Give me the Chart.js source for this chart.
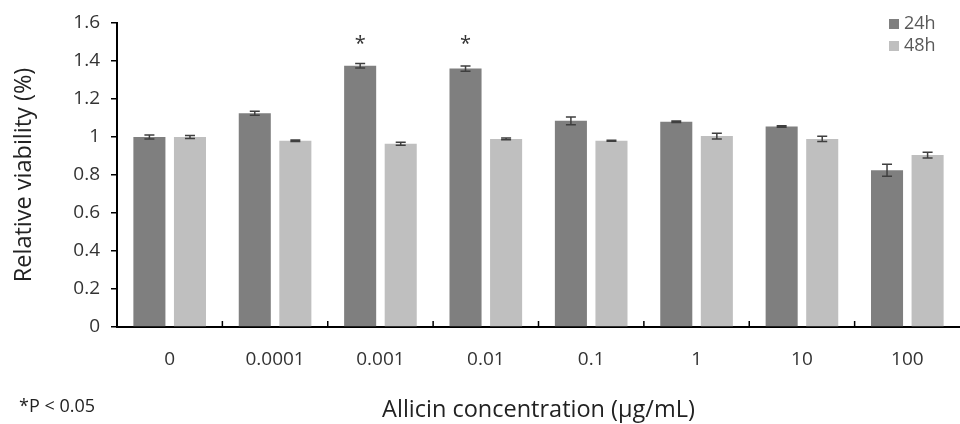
<!DOCTYPE html>
<html>
<head>
<meta charset="utf-8">
<script src="https://cdn.jsdelivr.net/npm/chart.js@4.4.1/dist/chart.umd.min.js"></script>
<style>
  html, body { margin: 0; padding: 0; background: #fff; }
  #wrap { width: 960px; height: 424px; }
</style>
</head>
<body>
<div id="wrap"><canvas id="chart"></canvas></div>
<script>
const concentrations = ['0', '0.0001', '0.001', '0.01', '0.1', '1', '10', '100'];
const viability24h = [1.0, 1.125, 1.375, 1.36, 1.085, 1.08, 1.055, 0.825];
const viability48h = [1.0, 0.98, 0.965, 0.99, 0.98, 1.005, 0.99, 0.905];
const err24h = [0.01, 0.01, 0.012, 0.014, 0.02, 0.004, 0.004, 0.032];
const err48h = [0.008, 0.004, 0.008, 0.005, 0.003, 0.015, 0.014, 0.015];
const signif24h = [false, false, true, true, false, false, false, false];
const asteriskLevel = 1.51;
const yMin = 0, yMax = 1.6, yStep = 0.2;

const FONT = "'Open Sans', 'DejaVu Sans', sans-serif";
const TEXT = '#333333';
const errors = [err24h, err48h];

const errorBars = {
  id: 'errorBars',
  afterDatasetsDraw(chart) {
    const ctx = chart.ctx;
    const y = chart.scales.y;
    ctx.save();
    ctx.strokeStyle = '#3f3f3f';
    ctx.lineWidth = 1.5;
    chart.data.datasets.forEach((ds, di) => {
      const meta = chart.getDatasetMeta(di);
      meta.data.forEach((bar, i) => {
        const e = errors[di][i];
        const top = y.getPixelForValue(ds.data[i] + e);
        const bot = y.getPixelForValue(ds.data[i] - e);
        const cap = 5;
        ctx.beginPath();
        ctx.moveTo(bar.x, top); ctx.lineTo(bar.x, bot);
        ctx.moveTo(bar.x - cap, top); ctx.lineTo(bar.x + cap, top);
        ctx.moveTo(bar.x - cap, bot); ctx.lineTo(bar.x + cap, bot);
        ctx.stroke();
      });
    });
    // significance marks over the 24h bars
    const meta0 = chart.getDatasetMeta(0);
    ctx.fillStyle = '#333';
    ctx.font = '20px ' + FONT;
    ctx.textAlign = 'center';
    ctx.textBaseline = 'middle';
    signif24h.forEach((s, i) => {
      if (!s) return;
      ctx.fillText('*', meta0.data[i].x, y.getPixelForValue(asteriskLevel) + 4);
    });
    ctx.restore();
  }
};

const xInnerTicks = {
  id: 'xInnerTicks',
  afterDraw(chart) {
    const ctx = chart.ctx;
    const x = chart.scales.x;
    const base = chart.chartArea.bottom;
    ctx.save();
    ctx.strokeStyle = '#000';
    ctx.lineWidth = 1.5;
    for (let i = 0; i < concentrations.length - 1; i++) {
      const px = (x.getPixelForValue(i) + x.getPixelForValue(i + 1)) / 2;
      ctx.beginPath();
      ctx.moveTo(px, base);
      ctx.lineTo(px, base - 6);
      ctx.stroke();
    }
    ctx.restore();
  }
};

const sideText = {
  id: 'sideText',
  afterDraw(chart) {
    const ctx = chart.ctx;
    ctx.save();
    // legend
    ctx.font = '18px ' + FONT;
    ctx.textBaseline = 'middle';
    ctx.textAlign = 'left';
    chart.data.datasets.forEach((ds, i) => {
      const cy = 24 + i * 22;
      ctx.fillStyle = ds.backgroundColor;
      ctx.fillRect(889, cy - 5, 10, 10);
      ctx.fillStyle = '#595959';
      ctx.fillText(ds.label, 904, cy);
    });
    // footnote
    ctx.fillStyle = '#222';
    ctx.font = '18px ' + FONT;
    ctx.fillText('*P < 0.05', 19, 407);
    ctx.restore();
  }
};

new Chart(document.getElementById('chart'), {
  type: 'bar',
  data: {
    labels: concentrations,
    datasets: [
      { label: '24h', data: viability24h, backgroundColor: '#7f7f7f' },
      { label: '48h', data: viability48h, backgroundColor: '#bfbfbf' }
    ]
  },
  options: {
    responsive: true,
    maintainAspectRatio: false,
    animation: false,
    datasets: { bar: { categoryPercentage: 0.77, barPercentage: 0.79 } },
    layout: { padding: { top: 23, right: 0, left: 0, bottom: 0 } },
    plugins: {
      legend: { display: false },
      tooltip: { enabled: false }
    },
    scales: {
      x: {
        afterFit(scale) { scale.height = 97; },
        grid: { display: false },
        border: { display: true, color: '#000', width: 2 },
        ticks: { color: TEXT, padding: 13, font: { family: FONT, size: 19 } },
        title: {
          display: true,
          text: 'Allicin concentration (µg/mL)',
          color: '#222',
          padding: { top: 0, bottom: 0 },
          font: { family: FONT, size: 23.5 }
        }
      },
      y: {
        min: yMin,
        max: yMax,
        afterFit(scale) { scale.width = 117; },
        grid: { drawOnChartArea: false, drawTicks: true, tickLength: 6, color: '#000', lineWidth: 1.5 },
        border: { display: true, color: '#000', width: 2 },
        ticks: {
          stepSize: yStep,
          color: TEXT,
          padding: 11,
          font: { family: FONT, size: 19 },
          callback: (v) => String(Number(v.toFixed(1)))
        },
        title: {
          display: true,
          text: 'Relative viability (%)',
          color: '#222',
          padding: { top: 10, bottom: 0 },
          font: { family: FONT, size: 23.5 }
        }
      }
    }
  },
  plugins: [errorBars, xInnerTicks, sideText]
});
</script>
</body>
</html>
